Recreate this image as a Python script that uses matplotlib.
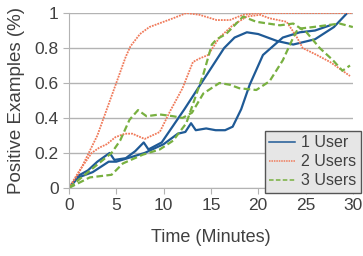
import matplotlib
matplotlib.use('Agg')
import matplotlib.pyplot as plt

plt.rcParams['font.family'] = ['Liberation Sans', 'DejaVu Sans']

# 1 User (two runs)
u1a_t = [0, 1, 2, 3, 4.3, 4.8, 6, 7, 7.9, 8.4, 9.8, 12.2, 14, 16.4, 17.5, 18.8, 20, 22, 23.7, 26, 28, 29.4]
u1a_v = [0, 0.07, 0.1, 0.15, 0.2, 0.16, 0.17, 0.21, 0.26, 0.22, 0.26, 0.45, 0.6, 0.8, 0.86, 0.89, 0.88, 0.84, 0.82, 0.85, 0.92, 1.0]
u1b_t = [0, 1, 2.5, 4.2, 5, 8, 10, 11.5, 12.3, 12.9, 13.4, 14.5, 15.5, 16.5, 17.3, 18.2, 19.1, 20.5, 22.6, 24.4, 26, 27.6]
u1b_v = [0, 0.06, 0.09, 0.15, 0.15, 0.2, 0.25, 0.31, 0.32, 0.37, 0.33, 0.34, 0.33, 0.33, 0.35, 0.45, 0.59, 0.76, 0.86, 0.89, 0.9, 0.93]

# 2 Users (two runs)
u2a_t = [0, 1, 2, 3, 4, 5, 6, 6.5, 7.5, 8.5, 10, 11, 12.4, 13.8, 15.6, 17, 18.4, 20, 30]
u2a_v = [0, 0.08, 0.19, 0.3, 0.45, 0.6, 0.75, 0.81, 0.88, 0.92, 0.95, 0.97, 1.0, 0.99, 0.96, 0.96, 0.99, 1.0, 1.0]
u2b_t = [0, 1, 2.4, 3.2, 4, 4.9, 5.9, 6.7, 8, 9.6, 10.7, 12, 13.1, 13.8, 14.7, 15.9, 17.3, 18.8, 20.2, 21.2, 23, 24, 24.7, 26.2, 27.6, 29.7]
u2b_v = [0, 0.09, 0.2, 0.23, 0.25, 0.29, 0.31, 0.31, 0.28, 0.32, 0.44, 0.57, 0.72, 0.74, 0.76, 0.86, 0.93, 0.98, 0.99, 0.97, 0.95, 0.87, 0.8, 0.76, 0.72, 0.64]

# 3 Users (two runs)
u3a_t = [0, 1.9, 3.6, 4.5, 5.4, 6.4, 7.3, 8.2, 9.6, 11, 12, 13, 14.2, 15.9, 17, 18, 19.8, 21.2, 22.6, 23.7, 24.2, 25.8, 28.6, 30]
u3a_v = [0, 0.085, 0.16, 0.2, 0.27, 0.39, 0.445, 0.41, 0.42, 0.41, 0.4, 0.43, 0.54, 0.6, 0.59, 0.57, 0.56, 0.61, 0.73, 0.86, 0.91, 0.92, 0.94, 0.92]
u3b_t = [0, 2.2, 4.5, 5.7, 7.8, 9.6, 11, 12.4, 14.2, 15.1, 15.6, 16.6, 18.4, 19.8, 22.3, 23.7, 25.1, 26.5, 27.9, 28.9, 29.7]
u3b_v = [0, 0.06, 0.075, 0.14, 0.19, 0.22, 0.27, 0.37, 0.65, 0.82, 0.85, 0.88, 0.98, 0.95, 0.93, 0.94, 0.89, 0.8, 0.73, 0.67, 0.7]

blue = '#1f5a96'
red = '#f07a5a'
green = '#78b040'

fig = plt.figure(figsize=(3.63, 2.56), dpi=100)
ax = fig.add_axes([0.19, 0.266, 0.782, 0.683])

ax.plot(u1a_t, u1a_v, color=blue, lw=1.6, label='1 User')
ax.plot(u1b_t, u1b_v, color=blue, lw=1.6)
ax.plot(u2a_t, u2a_v, color=red, lw=1.3, ls=(0, (1, 0.6)), label='2 Users')
ax.plot(u2b_t, u2b_v, color=red, lw=1.3, ls=(0, (1, 0.6)))
ax.plot(u3a_t, u3a_v, color=green, lw=1.6, ls=(0, (3, 1.5)), label='3 Users')
ax.plot(u3b_t, u3b_v, color=green, lw=1.6, ls=(0, (3, 1.5)))

ax.set_xlim(0, 30)
ax.set_ylim(0, 1)
ax.set_xticks([0, 5, 10, 15, 20, 25, 30])
ax.set_yticks([0, 0.2, 0.4, 0.6, 0.8, 1])
ax.set_yticklabels(['0', '0.2', '0.4', '0.6', '0.8', '1'])
ax.yaxis.grid(True, color='#b3b3b3', lw=1)
ax.set_axisbelow(True)
for s in ['top', 'right']:
    ax.spines[s].set_visible(False)
for s in ['left', 'bottom']:
    ax.spines[s].set_color('#b3b3b3')
ax.tick_params(colors='#b3b3b3', labelcolor='#404040', labelsize=12.5, length=4)
ax.set_xlabel('Time (Minutes)', fontsize=13, color='#404040', labelpad=11)
ax.set_ylabel('Positive Examples (%)', fontsize=13.5, color='#404040', labelpad=7)

leg = ax.legend(loc='lower right', bbox_to_anchor=(1.03, -0.03), fontsize=11.5,
                frameon=True, fancybox=False, handlelength=1.6, handletextpad=0.4,
                borderpad=0.3, labelspacing=0.25, borderaxespad=0)
leg.get_frame().set_facecolor('#e6e6e6')
leg.get_frame().set_edgecolor('#555555')
leg.get_frame().set_alpha(1)
for ln in leg.get_lines():
    ln.set_linewidth(1.1)
for t in leg.get_texts():
    t.set_color('#404040')

fig.savefig('out.png', dpi=100)
